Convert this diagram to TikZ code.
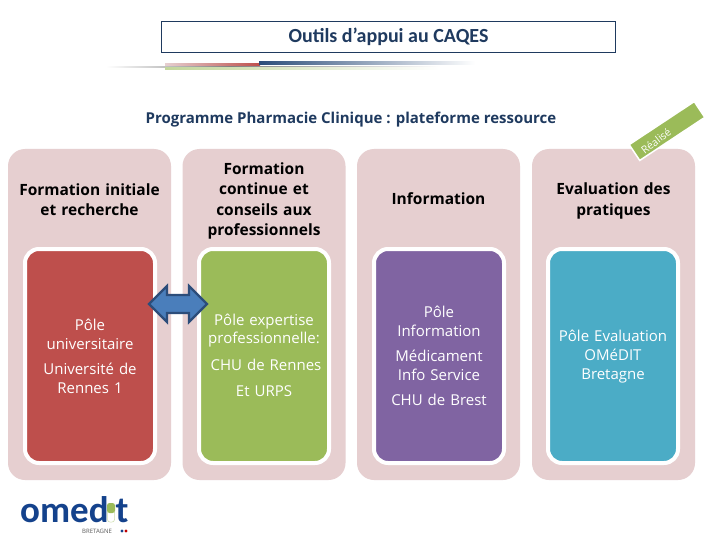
\documentclass[tikz,border=0pt]{standalone}
\usepackage{fontspec}
\setmainfont{Open Sans}
\newfontfamily\titlefont{Carlito}
\usetikzlibrary{shapes.arrows}
\definecolor{navy}{HTML}{1F3A5F}
\definecolor{panelpink}{HTML}{E6CFD0}
\definecolor{polered}{HTML}{BE4F4C}
\definecolor{polegreen}{HTML}{9BBB59}
\definecolor{polepurple}{HTML}{8064A2}
\definecolor{poleblue}{HTML}{4BACC6}
\definecolor{arrowblue}{HTML}{4A7EBB}
\definecolor{arrowedge}{HTML}{2C4D7A}
\definecolor{omedblue}{HTML}{14428C}
\tikzset{
  panel/.style={fill=panelpink,rounded corners=17pt,minimum width=163pt,minimum height=331pt,inner sep=0pt},
  pole/.style={draw=white,line width=4pt,rounded corners=14pt,minimum width=130pt,minimum height=214pt,inner sep=0pt},
  head/.style={font=\bfseries\fontsize{15.5}{20.3}\selectfont,text=black,align=center,text width=158pt},
  body/.style={font=\fontsize{15}{18.8}\selectfont,text=white,align=center,text width=130pt},
}
\begin{document}
\begin{tikzpicture}[x=1pt,y=-1pt]
  \useasboundingbox (0,0) rectangle (720,540);
  \fill[white] (0,0) rectangle (720,540);
  % title
  \node[draw=navy,line width=0.8pt,minimum width=454pt,minimum height=31pt,inner sep=0pt,font=\titlefont\bfseries\fontsize{20}{22}\selectfont,text=navy] (title) at (388.5,36.5) {Outils d’appui au CAQES};
  \fill[left color=panelpink,right color=polered] (165,63.5) rectangle (260,65.5);
  \fill[left color=arrowedge,right color=white] (259,62) rectangle (475,65);
  \fill[left color=white,right color=gray] (106,67) rectangle (230,68);
  \fill[left color=gray,right color=white] (230,67) rectangle (440,68);
  \fill[left color=polegreen!60,right color=white] (165,68) rectangle (440,69.3);
  \node[font=\bfseries\fontsize{15}{17}\selectfont,text=navy] (subtitle) at (351,120) {Programme Pharmacie Clinique : plateforme ressource};
  % panels
  \node[panel] (P1) at (89.5,314.5) {};
  \node[panel] (P2) at (264,314.5) {};
  \node[panel] (P3) at (438.5,314.5) {};
  \node[panel] (P4) at (613.5,314.5) {};
  % ribbon
  \node[draw=white,line width=1.5pt,fill=polegreen,rotate=33.5,minimum width=78pt,minimum height=19pt,inner sep=0pt] (ribbon) at (667,131) {};
  \node[rotate=38,font=\fontsize{10.5}{12}\selectfont,text=white,inner sep=0pt] (ribbontext) at (656,141) {Réalisé};
  \node[pole,fill=polered] (Q1) at (90,356) {};
  \node[pole,fill=polegreen] (Q2) at (264,356) {};
  \node[pole,fill=polepurple] (Q3) at (439,356) {};
  \node[pole,fill=poleblue] (Q4) at (613,356) {};
  \node[head] (H1) at (89.5,200) {Formation initiale\\et recherche};
  \node[head] (H2) at (264,201) {Formation\\continue et\\conseils aux\\professionnels};
  \node[head] (H3) at (438.5,199) {Information};
  \node[head] (H4) at (613.5,201) {Evaluation des\\pratiques};
  \node[body] (T1a) at (90,334) {Pôle\\universitaire};
  \node[body] (T1b) at (90,378) {Université de\\Rennes 1};
  \node[body] (T2a) at (264,330.5) {Pôle expertise\\professionnelle:};
  \node[body] (T2b) at (266,365) {CHU de Rennes};
  \node[body] (T2c) at (264,391) {Et URPS};
  \node[body] (T3a) at (439,321) {Pôle\\Information};
  \node[body] (T3b) at (439,365) {Médicament\\Info Service};
  \node[body] (T3c) at (439,400) {CHU de Brest};
  \node[body] (T4) at (613,356.5) {Pôle Evaluation\\OMéDIT\\Bretagne};
  % double arrow
  \node[double arrow,draw=arrowedge,fill=arrowblue,line width=2.2pt,minimum width=36pt,minimum height=58pt,double arrow head extend=5pt,inner sep=4pt] (link) at (178,304) {};
  % logo
  \node[anchor=base west,font=\titlefont\bfseries\fontsize{37}{37}\selectfont,text=omedblue,inner sep=0pt] (logo) at (20,522) {omed};
  \node[anchor=base west,font=\titlefont\bfseries\fontsize{37}{37}\selectfont,text=omedblue,inner sep=0pt] (logot) at (115.5,522) {t};
  \draw[polegreen!50,line width=0.5pt,rounded corners=2.5pt] (107.5,510) rectangle (114.5,522);
  \fill[polegreen,rounded corners=2.5pt] (107,503) rectangle (115,513);
  \node[anchor=base west,font=\fontsize{6}{7}\selectfont,text=gray!70!black,inner sep=0pt] (logosub) at (82,533) {BRETAGNE};
  \fill[omedblue] (122,531) circle (1.6pt);
  \fill[red!75!black] (126,531) circle (1.6pt);
\end{tikzpicture}
\end{document}
